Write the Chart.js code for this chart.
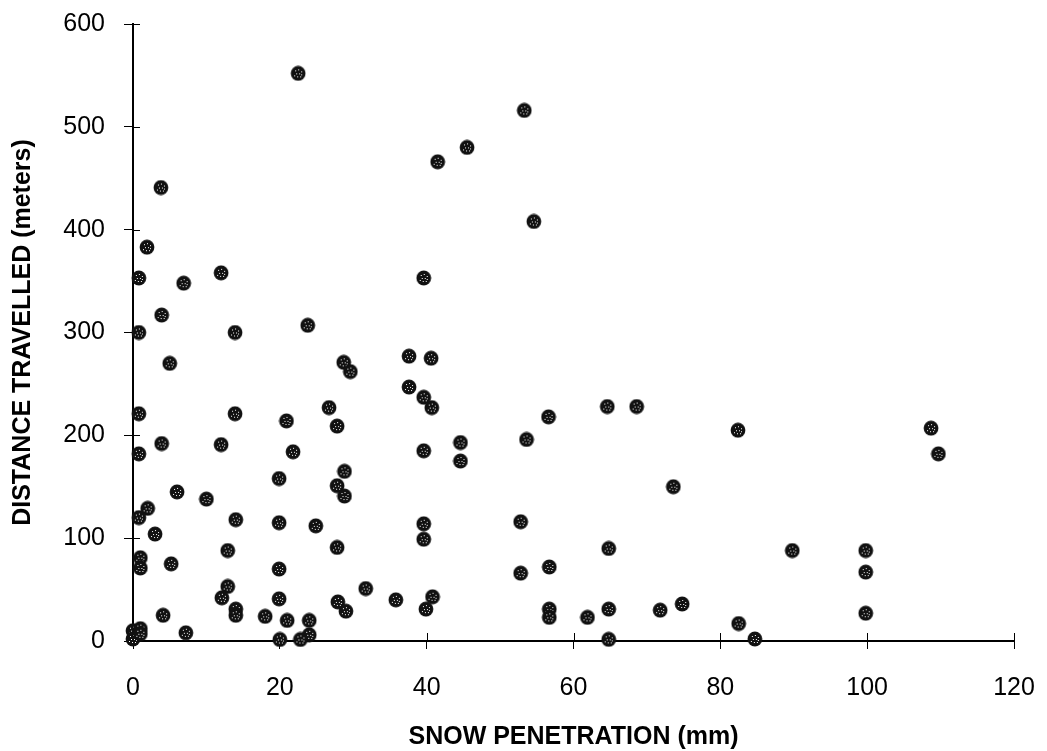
<!DOCTYPE html>
<html lang="en">
<head>
    <meta charset="UTF-8">
    <title>Snow Penetration vs Distance Travelled</title>
    <script src="https://cdn.jsdelivr.net/npm/chart.js"></script>
    <style>
        * { margin: 0; padding: 0; box-sizing: border-box; }
        body { background: #fff; }
        .chart-box { width: 1047px; height: 751px; }
    </style>
</head>
<body>
    <div class="chart-box">
        <canvas id="scatterCanvas"></canvas>
    </div>

    <script>
        // values
        var snowPenetration = [
            22.5, 53.3, 45.5, 41.5, 3.8, 54.6, 1.9, 12, 0.8, 39.6, 6.9, 3.9, 23.8, 0.8, 13.9,
            37.6, 40.6, 28.7, 5, 29.6, 37.6, 39.6, 64.6, 68.6, 26.7, 40.7, 0.8, 13.9, 56.6, 20.9,
            27.8, 108.7, 82.4, 53.6, 44.6, 3.9, 12, 39.6, 21.8, 0.8, 109.7, 44.6, 28.8, 19.9, 73.6,
            27.8, 6, 28.8, 10, 2, 0.8, 14, 52.8, 19.9, 39.6, 24.9, 3, 39.6, 27.8, 64.8,
            89.8, 99.8, 12.9, 1, 5.2, 1, 56.7, 19.9, 52.8, 99.8, 31.7, 12.9, 12.1, 40.8, 19.9,
            35.8, 27.9, 29, 74.8, 39.9, 64.8, 71.8, 56.7, 14, 14, 99.8, 18, 4.1, 56.7, 61.9,
            21, 24, 82.5, 7.2, 0, 1, 0, 1, 24, 20, 22.8, 64.8, 84.7
        ];
        var distanceTravelled = [
            552, 516, 480, 466, 441, 408, 383, 358, 353, 353, 348, 317, 307, 300, 300,
            277, 275, 271, 270, 262, 247, 237, 228, 228, 227, 227, 221, 221, 218, 214,
            209, 207, 205, 196, 193, 192, 191, 185, 184, 182, 182, 175, 165, 158, 150,
            151, 145, 141, 138, 129, 120, 118, 116, 115, 114, 112, 104, 99, 91, 90,
            88, 88, 88, 81, 75, 71, 72, 70, 66, 67, 51, 53, 42, 43, 41,
            40, 38, 29, 36, 31, 31, 30, 31, 31, 25, 27, 24, 25, 23, 23,
            20, 20, 17, 8, 10, 12, 2, 7, 6, 1.5, 1.5, 1.6, 2
        ];
        var xTicks = [0, 20, 40, 60, 80, 100, 120];
        var yTicks = [0, 100, 200, 300, 400, 500, 600];

        var points = snowPenetration.map(function (x, i) {
            return { x: x, y: distanceTravelled[i] };
        });

        // speckled black dot used as the marker
        function makeMarker() {
            var c = document.createElement('canvas');
            c.width = 16;
            c.height = 16;
            var g = c.getContext('2d');
            g.fillStyle = '#111';
            g.beginPath();
            g.arc(8, 8, 7.4, 0, Math.PI * 2);
            g.fill();
            g.fillStyle = '#fff';
            var dots = [[5, 5], [8, 4], [11, 6], [6, 8], [9, 8], [4, 10], [7, 11], [10, 11], [11, 9]];
            dots.forEach(function (d) { g.fillRect(d[0], d[1], 1, 1); });
            return c;
        }

        // tick marks that cross the axis lines
        var crossTicks = {
            id: 'crossTicks',
            beforeDatasetsDraw: function (chart) {
                var ctx = chart.ctx;
                var xs = chart.scales.x, ys = chart.scales.y;
                var area = chart.chartArea;
                ctx.save();
                ctx.strokeStyle = '#000';
                ctx.lineWidth = 1;
                ctx.beginPath();
                yTicks.forEach(function (v) {
                    var py = Math.round(ys.getPixelForValue(v)) + 0.5;
                    ctx.moveTo(area.left, py);
                    ctx.lineTo(area.left + 7, py);
                });
                xTicks.forEach(function (v) {
                    var px = Math.round(xs.getPixelForValue(v)) + 0.5;
                    ctx.moveTo(px, area.bottom);
                    ctx.lineTo(px, area.bottom - 8);
                });
                ctx.stroke();
                ctx.restore();
            }
        };

        function noOverhang(scale) {
            scale.paddingTop = 0;
            scale.paddingBottom = 0;
            scale.paddingLeft = 0;
            scale.paddingRight = 0;
        }

        var tickFont = { family: '"Liberation Sans", Arial, sans-serif', size: 25 };
        var titleFont = { family: '"Liberation Sans", Arial, sans-serif', size: 25, weight: 'bold', lineHeight: 1.2 };

        var ctx = document.getElementById('scatterCanvas').getContext('2d');
        var chart = new Chart(ctx, {
            type: 'scatter',
            data: {
                datasets: [{
                    label: 'Distance travelled',
                    data: points,
                    pointStyle: makeMarker(),
                    pointRadius: 8,
                    pointHoverRadius: 8,
                    clip: false
                }]
            },
            options: {
                responsive: true,
                maintainAspectRatio: false,
                animation: false,
                layout: { padding: { top: 24, right: 33, bottom: 0, left: 0 } },
                plugins: {
                    legend: { display: false },
                    tooltip: { enabled: false }
                },
                scales: {
                    x: {
                        type: 'linear',
                        min: 0,
                        max: 120,
                        afterFit: function (scale) { scale.height = 110; noOverhang(scale); },
                        afterBuildTicks: function (scale) {
                            scale.ticks = xTicks.map(function (v) { return { value: v }; });
                        },
                        border: { display: true, color: '#000', width: 2 },
                        grid: { drawOnChartArea: false, drawTicks: true, tickLength: 8, color: '#000', lineWidth: 1 },
                        ticks: { color: '#000', font: tickFont, padding: 24, maxRotation: 0 },
                        title: {
                            display: true,
                            text: 'SNOW PENETRATION (mm)',
                            color: '#000',
                            font: titleFont,
                            padding: { top: 0, bottom: -1 }
                        }
                    },
                    y: {
                        type: 'linear',
                        min: 0,
                        max: 600,
                        afterFit: function (scale) { scale.width = 133; noOverhang(scale); },
                        afterBuildTicks: function (scale) {
                            scale.ticks = yTicks.map(function (v) { return { value: v }; });
                        },
                        border: { display: true, color: '#000', width: 2 },
                        grid: { drawOnChartArea: false, drawTicks: true, tickLength: 9, color: '#000', lineWidth: 1 },
                        ticks: { color: '#000', font: tickFont, padding: 19 },
                        title: {
                            display: true,
                            text: 'DISTANCE TRAVELLED (meters)',
                            color: '#000',
                            font: titleFont,
                            padding: { top: 8, bottom: 0 }
                        }
                    }
                }
            },
            plugins: [crossTicks]
        });
    </script>
</body>
</html>
